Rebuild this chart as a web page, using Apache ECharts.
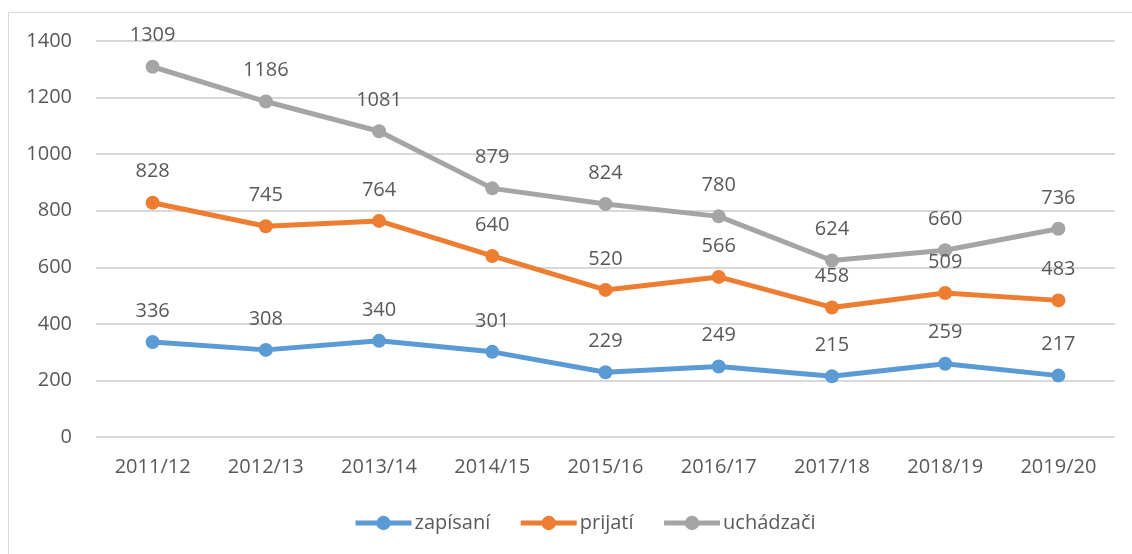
<!DOCTYPE html>
<html>
<head>
<meta charset="utf-8">
<script src="https://cdn.jsdelivr.net/npm/echarts@6/dist/echarts.min.js"></script>
<style>
  html, body { margin: 0; padding: 0; background: #fff; }
  #chart { width: 1132px; height: 554px; }
</style>
</head>
<body>
<div id="chart"></div>
<script>
  var years = ["2011/12", "2012/13", "2013/14", "2014/15", "2015/16", "2016/17", "2017/18", "2018/19", "2019/20"];
  var zapisani = [336, 308, 340, 301, 229, 249, 215, 259, 217];
  var prijati = [828, 745, 764, 640, 520, 566, 458, 509, 483];
  var uchadzaci = [1309, 1186, 1081, 879, 824, 780, 624, 660, 736];
  var seriesNames = ["zapísaní", "prijatí", "uchádzači"];

  var font = "Open Sans";
  var txt = "#595959";
  var fs = 20;

  function line(name, data, color) {
    return {
      name: name,
      type: "line",
      data: data,
      symbol: "circle",
      symbolSize: 14,
      lineStyle: { width: 5, color: color },
      itemStyle: { color: color },
      label: {
        show: true,
        position: "top",
        distance: 14,
        color: txt,
        fontFamily: font,
        fontSize: fs
      }
    };
  }

  var chart = echarts.init(document.getElementById("chart"));
  chart.setOption({
    animation: false,
    graphic: [{
      type: "rect",
      shape: { x: 8.5, y: 12.5, width: 1200, height: 600 },
      style: { fill: "none", stroke: "#d9d9d9", lineWidth: 1 },
      silent: true
    }],
    grid: { left: 96, right: 17, top: 41, bottom: 117 },
    legend: {
      bottom: 16,
      left: 348,
      itemWidth: 56,
      itemHeight: 18,
      itemGap: 28,
      lineStyle: { width: 5 },
      textStyle: { color: txt, fontFamily: font, fontSize: fs, padding: [0, 0, 0, -2] },
      data: seriesNames
    },
    xAxis: {
      type: "category",
      data: years,
      boundaryGap: true,
      axisLine: { show: false },
      axisTick: { show: false },
      axisLabel: { color: txt, fontFamily: font, fontSize: fs, margin: 20 }
    },
    yAxis: {
      type: "value",
      min: 0,
      max: 1400,
      interval: 200,
      axisLine: { show: false },
      axisTick: { show: false },
      axisLabel: { color: txt, fontFamily: font, fontSize: fs, margin: 24, formatter: function (v) { return String(v); } },
      splitLine: { lineStyle: { color: "#d9d9d9", width: 2 } }
    },
    series: [
      line(seriesNames[0], zapisani, "#5b9bd5"),
      line(seriesNames[1], prijati, "#ed7d31"),
      line(seriesNames[2], uchadzaci, "#a5a5a5")
    ]
  });
</script>
</body>
</html>
